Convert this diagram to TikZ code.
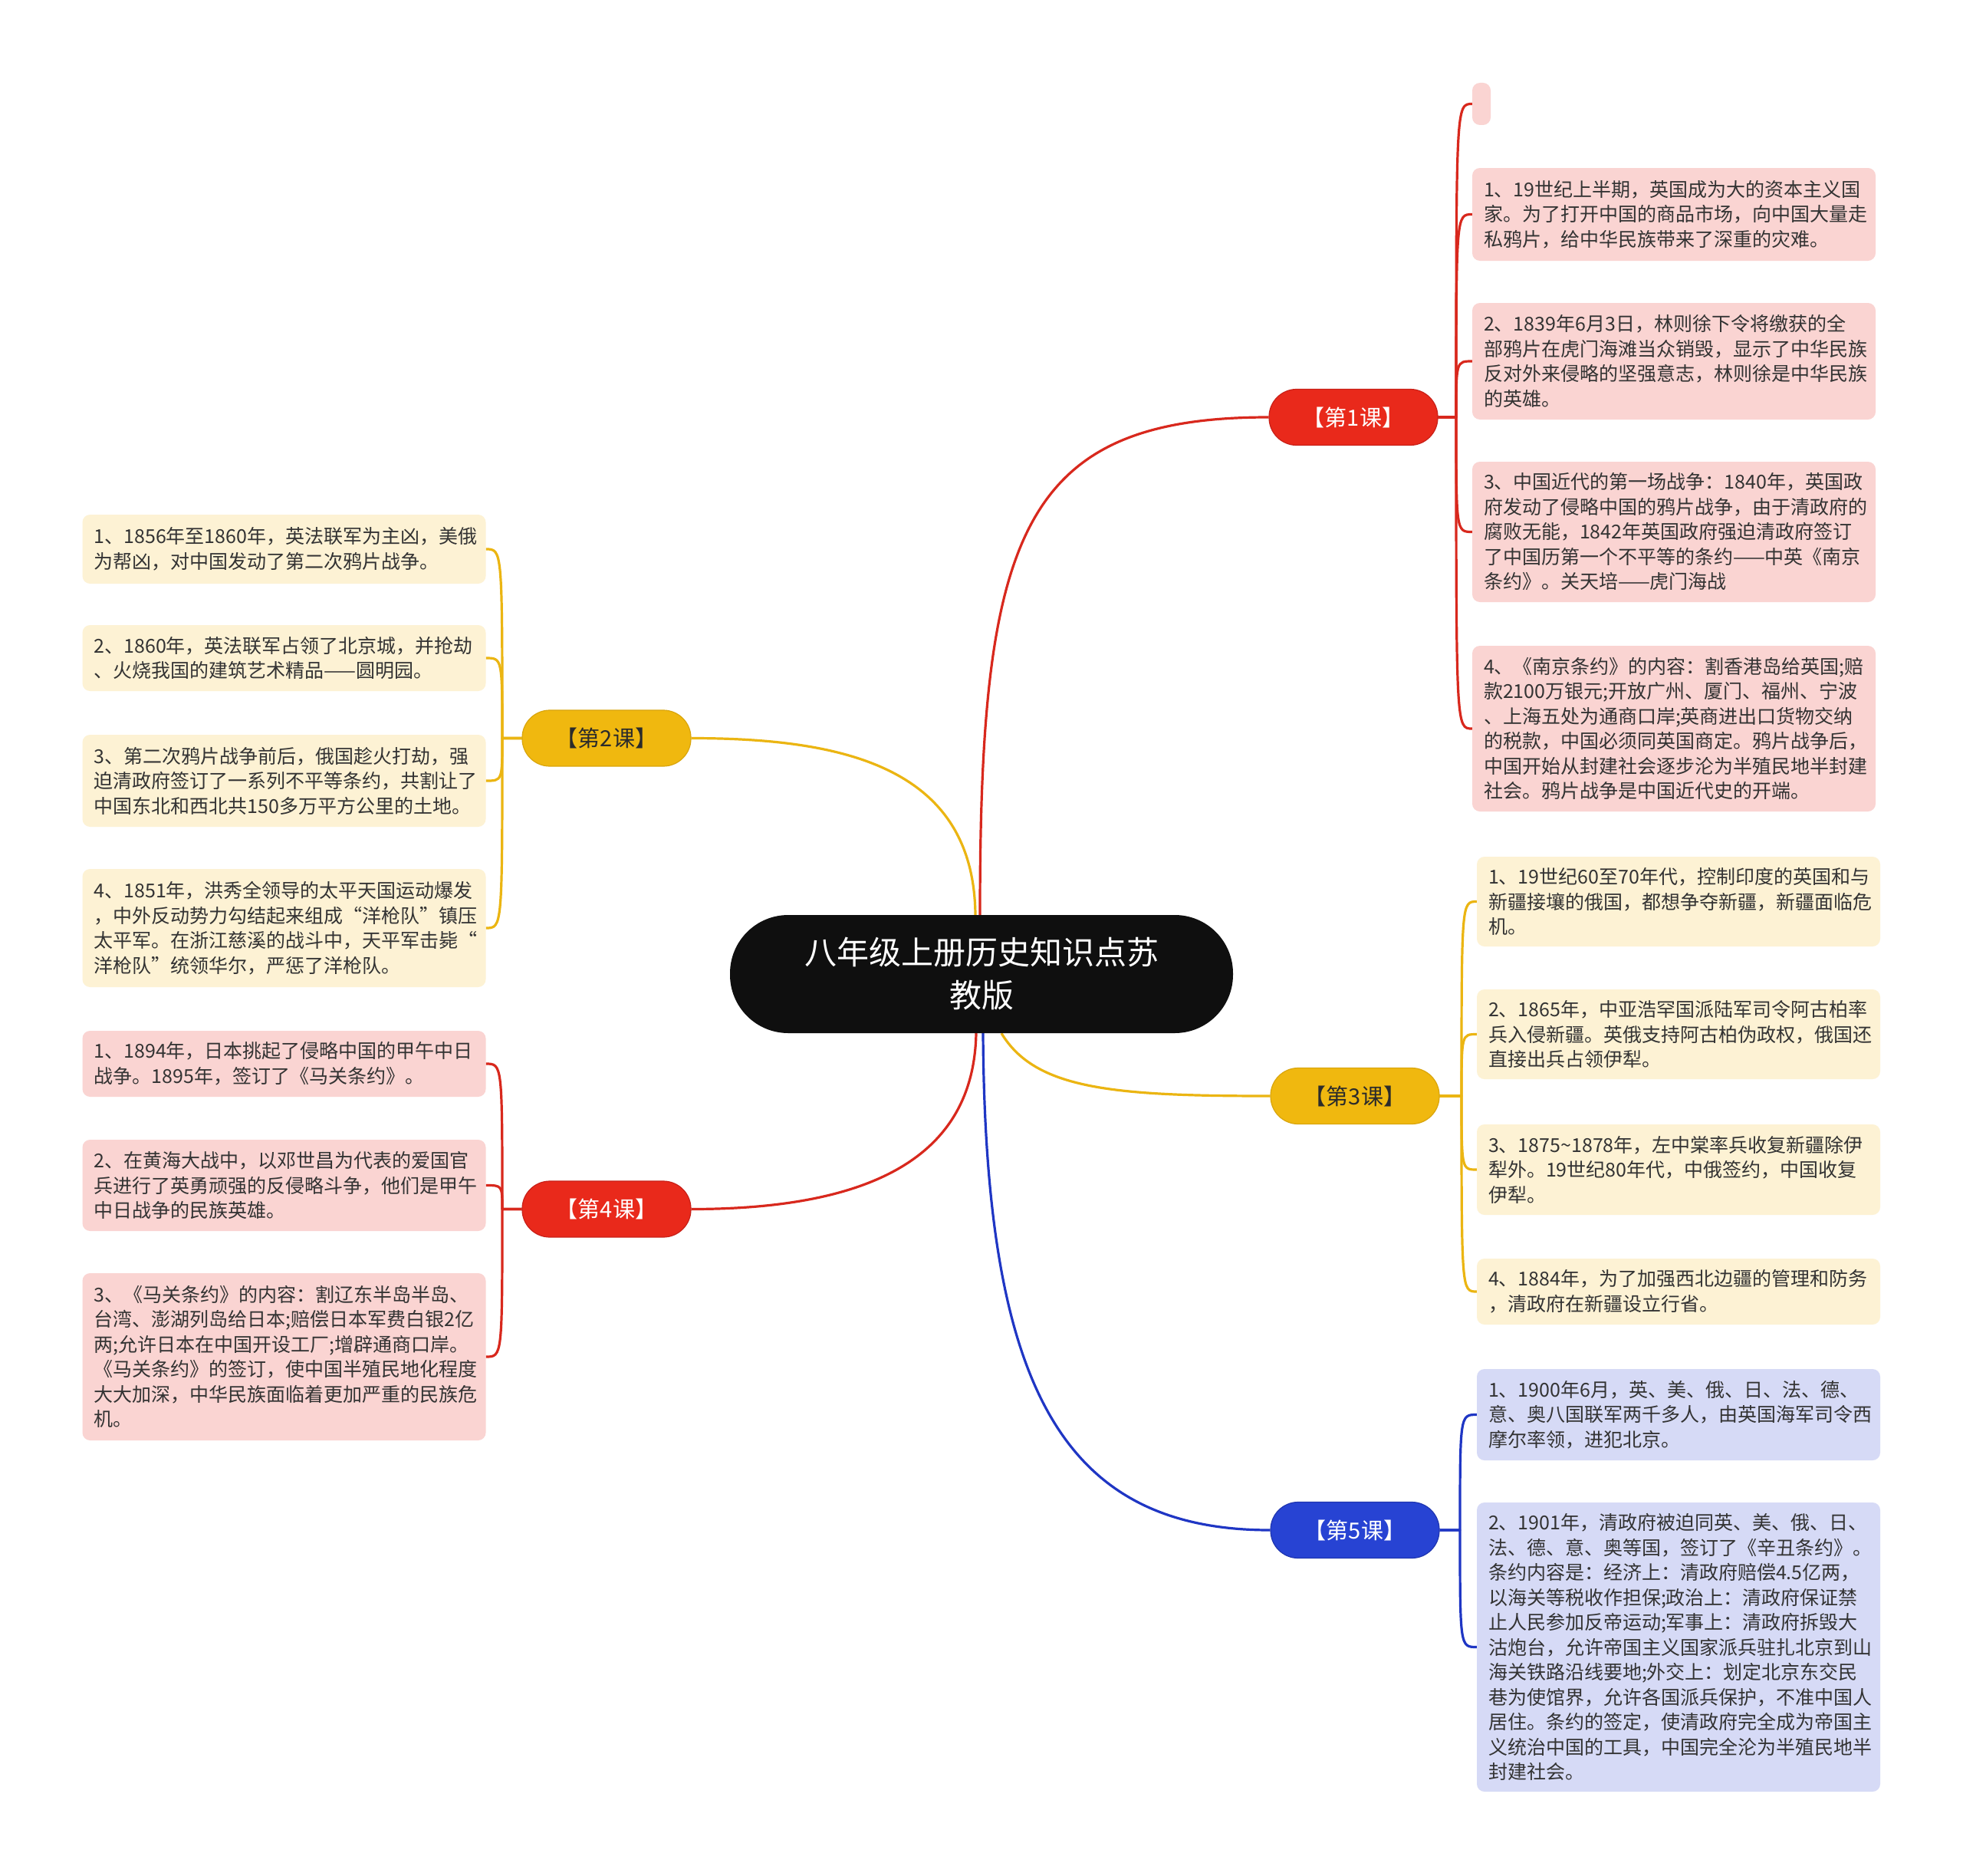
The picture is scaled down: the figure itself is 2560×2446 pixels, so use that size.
\documentclass[tikz,border=0pt]{standalone}
\usepackage{fontspec}
\setmainfont{Noto Sans CJK SC}
\usetikzlibrary{backgrounds}
\setlength{\parindent}{0pt}
\definecolor{ctrblack}{HTML}{0F0F0F}
\definecolor{redN}{HTML}{E9291B}
\definecolor{redD}{HTML}{C82018}
\definecolor{redC}{HTML}{D8281D}
\definecolor{redL}{HTML}{FAD4D2}
\definecolor{yelN}{HTML}{F0B80F}
\definecolor{yelD}{HTML}{D9A50C}
\definecolor{yelC}{HTML}{EBB512}
\definecolor{yelL}{HTML}{FDF2D4}
\definecolor{bluN}{HTML}{2743D3}
\definecolor{bluD}{HTML}{1E35B0}
\definecolor{bluC}{HTML}{1F36C4}
\definecolor{bluL}{HTML}{D6DAF6}
\definecolor{txt}{HTML}{333333}
\definecolor{ltxt}{HTML}{2B2B2B}
\begin{document}
\begin{tikzpicture}[x=1pt,y=-1pt,
  ctrbox/.style={fill=ctrblack, text=white, rounded corners=76pt, minimum width=656pt, minimum height=154pt, font=\fontsize{42}{56}\selectfont, align=center, inner sep=0pt},
  lesson/.style={rounded corners=36pt, minimum width=220pt, minimum height=73pt, font=\fontsize{29}{34}\selectfont, inner sep=0pt, line width=1.2pt},
  redles/.style={lesson, fill=redN, draw=redD, text=white},
  yelles/.style={lesson, fill=yelN, draw=yelD, text=ltxt},
  blules/.style={lesson, fill=bluN, draw=bluD, text=white},
  leaf/.style={rounded corners=10pt, text width=496pt, inner xsep=15pt, inner ysep=0pt, align=left, font=\fontsize{25}{32.5}\selectfont, text=txt},
  redleaf/.style={leaf, fill=redL},
  yelleaf/.style={leaf, fill=yelL},
  bluleaf/.style={leaf, fill=bluL},
  conn/.style={line width=3.2pt, line join=round}
]
\useasboundingbox (0,0) rectangle (2560,2446);

% central topic
\node[ctrbox] (ctr) at (1280,1270) {八年级上册历史知识点苏\\教版};

% lessons
\node[redles] (k1) at (1765,544) {【第1课】};
\node[yelles] (k2) at (791,962.5) {【第2课】};
\node[yelles] (k3) at (1767,1429) {【第3课】};
\node[redles] (k4) at (791,1576.5) {【第4课】};
\node[blules] (k5) at (1767,1995) {【第5课】};

% lesson 1 leaves
\node[fill=redL, rounded corners=10pt, minimum width=24pt, minimum height=55pt, inner sep=0pt] (r0) at (1932,135.5) {};
\node[redleaf, minimum height=121pt] (r1) at (2183,279.5) {1、19世纪上半期，英国成为大的资本主义国\\家。为了打开中国的商品市场，向中国大量走\\私鸦片，给中华民族带来了深重的灾难。};
\node[redleaf, minimum height=152pt] (r2) at (2183,471) {2、1839年6月3日，林则徐下令将缴获的全\\部鸦片在虎门海滩当众销毁，显示了中华民族\\反对外来侵略的坚强意志，林则徐是中华民族\\的英雄。};
\node[redleaf, minimum height=183pt] (r3) at (2183,693.5) {3、中国近代的第一场战争：1840年，英国政\\府发动了侵略中国的鸦片战争，由于清政府的\\腐败无能，1842年英国政府强迫清政府签订\\了中国历第一个不平等的条约——中英《南京\\条约》。关天培——虎门海战};
\node[redleaf, minimum height=216pt] (r4) at (2183,950) {4、《南京条约》的内容：割香港岛给英国;赔\\款2100万银元;开放广州、厦门、福州、宁波\\、上海五处为通商口岸;英商进出口货物交纳\\的税款，中国必须同英国商定。鸦片战争后，\\中国开始从封建社会逐步沦为半殖民地半封建\\社会。鸦片战争是中国近代史的开端。};

% lesson 3 leaves
\node[yelleaf, minimum height=117pt] (y1) at (2189,1175.5) {1、19世纪60至70年代，控制印度的英国和与\\新疆接壤的俄国，都想争夺新疆，新疆面临危\\机。};
\node[yelleaf, minimum height=117pt] (y2) at (2189,1348.5) {2、1865年，中亚浩罕国派陆军司令阿古柏率\\兵入侵新疆。英俄支持阿古柏伪政权，俄国还\\直接出兵占领伊犁。};
\node[yelleaf, minimum height=118pt] (y3) at (2189,1525) {3、1875\textasciitilde1878年，左中棠率兵收复新疆除伊\\犁外。19世纪80年代，中俄签约，中国收复\\伊犁。};
\node[yelleaf, minimum height=86pt] (y4) at (2189,1684) {4、1884年，为了加强西北边疆的管理和防务\\，清政府在新疆设立行省。};

% lesson 5 leaves
\node[bluleaf, minimum height=119pt] (b1) at (2189,1844.5) {1、1900年6月，英、美、俄、日、法、德、\\意、奥八国联军两千多人，由英国海军司令西\\摩尔率领，进犯北京。};
\node[bluleaf, minimum height=377pt] (b2) at (2189,2147.5) {2、1901年，清政府被迫同英、美、俄、日、\\法、德、意、奥等国，签订了《辛丑条约》。\\条约内容是：经济上：清政府赔偿4.5亿两，\\以海关等税收作担保;政治上：清政府保证禁\\止人民参加反帝运动;军事上：清政府拆毁大\\沽炮台，允许帝国主义国家派兵驻扎北京到山\\海关铁路沿线要地;外交上：划定北京东交民\\巷为使馆界，允许各国派兵保护，不准中国人\\居住。条约的签定，使清政府完全成为帝国主\\义统治中国的工具，中国完全沦为半殖民地半\\封建社会。};

% lesson 2 leaves
\node[yelleaf, minimum height=90pt] (l1) at (370.5,716) {1、1856年至1860年，英法联军为主凶，美俄\\为帮凶，对中国发动了第二次鸦片战争。};
\node[yelleaf, minimum height=86pt] (l2) at (370.5,858) {2、1860年，英法联军占领了北京城，并抢劫\\、火烧我国的建筑艺术精品——圆明园。};
\node[yelleaf, minimum height=120pt] (l3) at (370.5,1018) {3、第二次鸦片战争前后，俄国趁火打劫，强\\迫清政府签订了一系列不平等条约，共割让了\\中国东北和西北共150多万平方公里的土地。};
\node[yelleaf, minimum height=154pt] (l4) at (370.5,1210) {4、1851年，洪秀全领导的太平天国运动爆发\\，中外反动势力勾结起来组成“洋枪队”镇压\\太平军。在浙江慈溪的战斗中，天平军击毙“\\洋枪队”统领华尔，严惩了洋枪队。};

% lesson 4 leaves
\node[redleaf, minimum height=86pt] (m1) at (370.5,1387) {1、1894年，日本挑起了侵略中国的甲午中日\\战争。1895年，签订了《马关条约》。};
\node[redleaf, minimum height=119pt] (m2) at (370.5,1545.5) {2、在黄海大战中，以邓世昌为代表的爱国官\\兵进行了英勇顽强的反侵略斗争，他们是甲午\\中日战争的民族英雄。};
\node[redleaf, minimum height=218pt] (m3) at (370.5,1769) {3、《马关条约》的内容：割辽东半岛半岛、\\台湾、澎湖列岛给日本;赔偿日本军费白银2亿\\两;允许日本在中国开设工厂;增辟通商口岸。\\《马关条约》的签订，使中国半殖民地化程度\\大大加深，中华民族面临着更加严重的民族危\\机。};

\begin{scope}[on background layer]
\fill[white] (0,0) rectangle (2560,2446);
% center to lessons
\draw[conn, redC] ([xshift=-2pt]ctr.north) .. controls (1278,700) and (1330,544) .. (k1.west);
\draw[conn, yelC] ([xshift=-8pt]ctr.north) .. controls (1270,1000) and (1100,962.5) .. (k2.east);
\draw[conn, yelC] ([xshift=26pt]ctr.south) .. controls (1350,1420) and (1450,1429) .. (k3.west);
\draw[conn, redC] ([xshift=-7pt]ctr.south) .. controls (1270,1500) and (1150,1576.5) .. (k4.east);
\draw[conn, bluC] ([xshift=2pt]ctr.south) .. controls (1285,1800) and (1380,1995) .. (k5.west);
% lesson 1
\draw[conn, redC] (k1.east) -- (1899,544) .. controls (1899,135.5) and (1899,135.5) .. (r0.west);
\draw[conn, redC] (k1.east) -- (1899,544) .. controls (1899,279.5) and (1899,279.5) .. (r1.west);
\draw[conn, redC] (k1.east) -- (1899,544) .. controls (1899,471) and (1899,471) .. (r2.west);
\draw[conn, redC] (k1.east) -- (1899,544) .. controls (1899,693.5) and (1899,693.5) .. (r3.west);
\draw[conn, redC] (k1.east) -- (1899,544) .. controls (1899,950) and (1899,950) .. (r4.west);
% lesson 3
\draw[conn, yelC] (k3.east) -- (1906,1429) .. controls (1906,1175.5) and (1906,1175.5) .. (y1.west);
\draw[conn, yelC] (k3.east) -- (1906,1429) .. controls (1906,1348.5) and (1906,1348.5) .. (y2.west);
\draw[conn, yelC] (k3.east) -- (1906,1429) .. controls (1906,1525) and (1906,1525) .. (y3.west);
\draw[conn, yelC] (k3.east) -- (1906,1429) .. controls (1906,1684) and (1906,1684) .. (y4.west);
% lesson 5
\draw[conn, bluC] (k5.east) -- (1904,1995) .. controls (1904,1844.5) and (1904,1844.5) .. (b1.west);
\draw[conn, bluC] (k5.east) -- (1904,1995) .. controls (1904,2147.5) and (1904,2147.5) .. (b2.west);
% lesson 2
\draw[conn, yelC] (k2.west) -- (655,962.5) .. controls (655,716) and (655,716) .. (l1.east);
\draw[conn, yelC] (k2.west) -- (655,962.5) .. controls (655,858) and (655,858) .. (l2.east);
\draw[conn, yelC] (k2.west) -- (655,962.5) .. controls (655,1018) and (655,1018) .. (l3.east);
\draw[conn, yelC] (k2.west) -- (655,962.5) .. controls (655,1210) and (655,1210) .. (l4.east);
% lesson 4
\draw[conn, redC] (k4.west) -- (655,1576.5) .. controls (655,1387) and (655,1387) .. (m1.east);
\draw[conn, redC] (k4.west) -- (655,1576.5) .. controls (655,1545.5) and (655,1545.5) .. (m2.east);
\draw[conn, redC] (k4.west) -- (655,1576.5) .. controls (655,1769) and (655,1769) .. (m3.east);
\end{scope}
\end{tikzpicture}
\end{document}
